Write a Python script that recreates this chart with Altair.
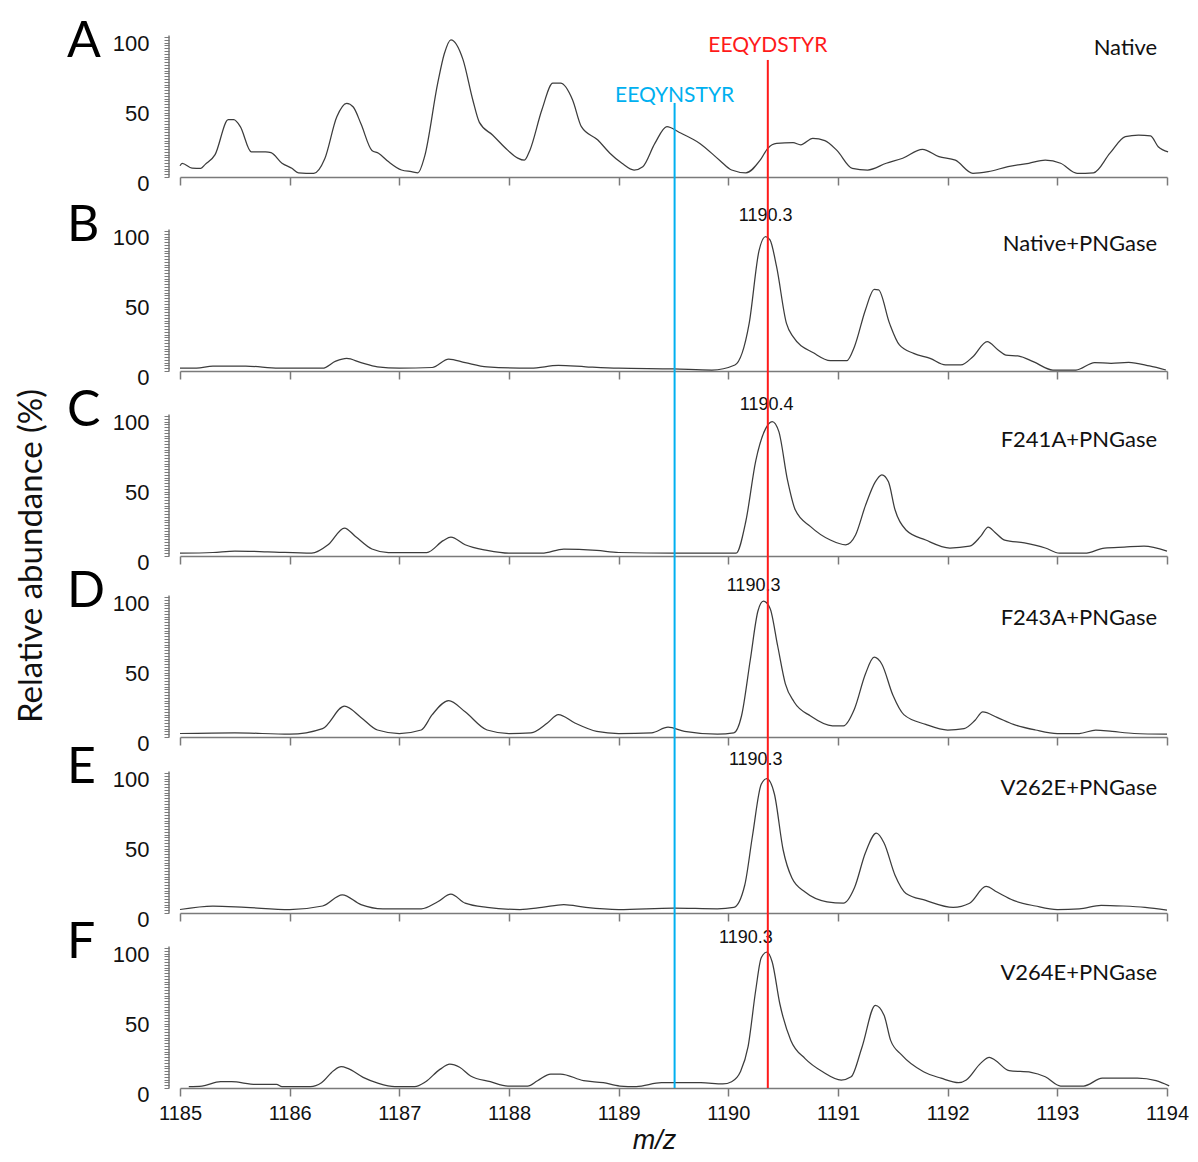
import altair as alt
import pandas as pd

# ---------------- data ----------------
mz_A = [1185.00,1185.02,1185.11,1185.19,1185.23,1185.32,1185.44,1185.49,1185.55,1185.65,1185.78,1185.83,1185.93,1186.02,1186.08,1186.22,1186.32,1186.43,1186.52,1186.58,1186.65,1186.75,1186.81,1186.90,1187.02,1187.11,1187.17,1187.23,1187.35,1187.41,1187.47,1187.58,1187.67,1187.73,1187.85,1187.99,1188.08,1188.14,1188.19,1188.30,1188.40,1188.47,1188.58,1188.66,1188.81,1188.92,1189.03,1189.14,1189.22,1189.33,1189.44,1189.55,1189.74,1189.92,1190.03,1190.16,1190.29,1190.36,1190.44,1190.59,1190.66,1190.77,1190.88,1190.99,1191.13,1191.27,1191.44,1191.59,1191.77,1191.92,1192.07,1192.23,1192.37,1192.55,1192.74,1192.89,1193.03,1193.18,1193.33,1193.48,1193.62,1193.74,1193.85,1193.92,1194.01]
int_A = [8,9.8,6.4,6.2,9,16,41,41,36,18,18,17.4,9.8,6.2,3,2.6,13,43,52.6,50,38,19,17,11,5,3.8,3,14.5,67,88,98,84,55,39,30,19,13.5,12,19,48,67,67,55,36,26.4,17,9.8,5,7.4,24,36,32,24,12,5,3,12,20.5,24,24.5,23,27.6,26,19,6.2,5,9.8,13.4,19.8,14.5,12,2.6,3.8,7.4,9.8,12,9.8,2.6,3,17,28.8,30,29.3,21.6,18]

mz_B = [1185.00,1185.15,1185.30,1185.60,1185.90,1186.30,1186.42,1186.52,1186.65,1186.80,1187.00,1187.30,1187.45,1187.60,1187.80,1188.20,1188.45,1188.70,1189.00,1189.50,1189.85,1190.06,1190.19,1190.28,1190.34,1190.38,1190.44,1190.53,1190.59,1190.78,1190.93,1191.08,1191.15,1191.25,1191.33,1191.37,1191.47,1191.56,1191.69,1191.84,1191.98,1192.12,1192.23,1192.36,1192.46,1192.53,1192.65,1192.78,1192.96,1193.17,1193.34,1193.49,1193.65,1193.84,1193.99]
int_B = [2,2,3.5,3.5,2,2,7,9,6,3,2,2.5,8.5,6,3,2,4,3,2,1.5,0.7,4.3,34,86,96,93.6,74.5,34,24.5,12.8,7.4,7.4,17.4,43.6,58.3,58,34,18.6,12.6,9,4.3,4.3,10.2,21,15,11.4,10.7,6.7,0.7,0.7,6,5.5,6.2,3.6,0.7]

mz_C = [1185.00,1185.30,1185.50,1185.80,1186.20,1186.35,1186.50,1186.60,1186.75,1186.90,1187.25,1187.40,1187.47,1187.60,1187.80,1188.00,1188.30,1188.50,1188.80,1189.00,1189.50,1189.90,1190.07,1190.16,1190.25,1190.34,1190.40,1190.46,1190.54,1190.61,1190.75,1190.93,1191.07,1191.16,1191.25,1191.34,1191.40,1191.46,1191.52,1191.62,1191.80,1192.02,1192.20,1192.30,1192.37,1192.43,1192.52,1192.70,1192.89,1193.02,1193.25,1193.43,1193.61,1193.79,1194.00]
int_C = [2,2.5,3.5,3,2,8,20,14,5,2.5,2.5,11,13.5,8,4,2,2,5,4,2.5,2,2,2,25,68,91,96,89,54,33,21,11.4,8,15,36,53,58,53,33,18.6,11.4,5.7,7,14,20.7,17,11.4,9.3,5.7,2,2,5.7,6.4,7,3.5]

mz_D = [1185.00,1185.50,1186.00,1186.30,1186.50,1186.65,1186.80,1187.00,1187.20,1187.30,1187.45,1187.60,1187.80,1188.00,1188.20,1188.35,1188.45,1188.60,1188.80,1189.00,1189.30,1189.45,1189.60,1189.90,1190.05,1190.12,1190.20,1190.27,1190.32,1190.38,1190.45,1190.52,1190.60,1190.75,1190.95,1191.05,1191.15,1191.25,1191.33,1191.40,1191.50,1191.60,1191.80,1192.00,1192.15,1192.25,1192.32,1192.45,1192.60,1192.80,1193.00,1193.20,1193.35,1193.50,1193.70,1194.00]
int_D = [2.5,3,2,6,22,14,5,2.5,5,16,26,18,5,2.5,3,10,16,10,4,2.5,3,7,4,2,3,15,55,90,97,92,65,38,25,15,8,8,20,45,57,52,30,16,9,5,6,12,18,14,9,5,2.5,2.5,5,4,2.5,2]

mz_E = [1185.00,1185.30,1185.60,1186.00,1186.30,1186.48,1186.65,1186.85,1187.20,1187.35,1187.47,1187.60,1187.80,1188.10,1188.30,1188.50,1188.70,1189.00,1189.50,1189.90,1190.05,1190.15,1190.22,1190.30,1190.35,1190.42,1190.50,1190.58,1190.70,1190.90,1191.05,1191.15,1191.25,1191.35,1191.42,1191.52,1191.62,1191.80,1192.05,1192.20,1192.35,1192.45,1192.60,1192.80,1193.00,1193.20,1193.40,1193.60,1193.80,1194.00]
int_E = [2.5,5,4,2.5,5,13,6,3,3,8,13.5,7,4,2.5,4,6,4,2.5,3.5,3,4,20,55,92,96,85,45,25,15,8,7,18,43,57,50,27,14,9,4,7,19,15,9,5,2.5,3,5.5,5,4,2]

mz_F = [1185.08,1185.20,1185.37,1185.47,1185.69,1185.88,1185.93,1186.19,1186.29,1186.40,1186.47,1186.53,1186.67,1186.81,1186.96,1187.14,1187.24,1187.37,1187.46,1187.55,1187.65,1187.83,1187.99,1188.17,1188.26,1188.38,1188.47,1188.68,1188.86,1189.01,1189.16,1189.39,1189.75,1189.95,1190.03,1190.11,1190.18,1190.25,1190.30,1190.35,1190.40,1190.47,1190.57,1190.70,1190.86,1191.03,1191.12,1191.22,1191.34,1191.42,1191.48,1191.58,1191.78,1191.94,1192.10,1192.17,1192.30,1192.38,1192.43,1192.56,1192.76,1192.89,1193.03,1193.24,1193.41,1193.73,1193.90,1194.02]
int_F = [1,1.4,4.5,4.5,2.6,2.6,1,1,3.8,12.4,15.2,14,7.6,3.3,1,1,4.5,13.3,17,14.8,8.6,4.5,1.4,1.4,5.2,10,10,5.2,3.8,1.4,1,3.8,3.8,2.9,4.5,11.6,29.5,70,93,97,90,60,34,21,11.6,5.7,8,29.5,59,52,34,23.6,11.6,7,3.8,5.7,17.6,21.9,20,12.4,11.2,8,1.4,1.4,7,7,5.2,1.5]

spectra_mz = [mz_A, mz_B, mz_C, mz_D, mz_E, mz_F]
spectra_int = [int_A, int_B, int_C, int_D, int_E, int_F]

panel_letters = ["A", "B", "C", "D", "E", "F"]
panel_names = ["Native", "Native+PNGase", "F241A+PNGase", "F243A+PNGase", "V262E+PNGase", "V264E+PNGase"]
peak_texts = ["", "1190.3", "1190.4", "1190.3", "1190.3", "1190.3"]
peak_text_mz = [0, 1190.34, 1190.35, 1190.23, 1190.25, 1190.16]
peak_text_val = [0, 110.7, 108, 108, 109, 107]
name_val = [92, 90.7, 83, 85, 89, 82]

x_ticks = list(range(1185, 1195))
y_ticks = list(range(0, 101, 2))

red_mz, red_label = 1190.36, "EEQYDSTYR"
blue_mz, blue_label = 1189.51, "EEQYNSTYR"
red_top_A, blue_top_A = 83.6, 52.9
red_label_val, blue_label_val = 93.6, 57.9

# ---------------- layout / style ----------------
heights = [169, 194, 185, 181, 176, 175]
letter_pos = [96.5, 103.6, 103.6, 103.6, 103.6, 103.6]
PX_PER_UNIT = 1.4
W = 987
RED = "#ff1a1a"
BLUE = "#00b0f0"
GREY = "#7a7a7a"
LINE = "#3c3c3c"
TXT_FONT = "Lato"
NUM_FONT = "Liberation Sans"

one = pd.DataFrame({"k": [0]})


def panel(i):
    h = heights[i]
    ymax = h / PX_PER_UNIT
    last = i == len(heights) - 1
    df = pd.DataFrame({"mz": spectra_mz[i], "v": spectra_int[i]})
    xs = alt.Scale(domain=[1185, 1194], nice=False, zero=False)
    ys = alt.Scale(domain=[0, ymax], nice=False, zero=False)

    xaxis_kw = dict(values=x_ticks, format="d", labels=last, labelFlush=False,
                    labelFontSize=20, labelFont=NUM_FONT, labelColor="#111111",
                    labelPadding=7, tickSize=8, tickWidth=1.5, tickColor=GREY,
                    domainColor=GREY, domainWidth=1.5, grid=False,
                    title=("m/z" if last else ""))
    if last:
        xaxis_kw.update(titleFont=NUM_FONT, titleFontStyle="italic", titleFontWeight="normal",
                        titleFontSize=27, titleColor="#111111", titleX=474, titleY=52,
                        titleBaseline="middle", titleAlign="center")
    xaxis = alt.Axis(**xaxis_kw)
    yaxis = alt.Axis(values=y_ticks,
                     labelExpr="datum.value % 50 === 0 ? datum.label : ''",
                     labelOverlap=False, domain=False, offset=11, tickSize=5,
                     tickColor=GREY, tickWidth=1, labelPadding=15, labelFontSize=22,
                     labelFont=NUM_FONT, labelColor="#111111", labelOffset=6, grid=False,
                     title="")

    def X(v):
        return alt.XDatum(v, type="quantitative", scale=xs, axis=xaxis)

    def Y(v):
        return alt.YDatum(v, type="quantitative", scale=ys, axis=yaxis)

    line = alt.Chart(df).mark_line(color=LINE, strokeWidth=1.25, interpolate="monotone").encode(
        x=alt.X("mz:Q", scale=xs, axis=xaxis),
        y=alt.Y("v:Q", scale=ys, axis=yaxis),
    )
    layers = [line]
    # y axis line from 0 to 100
    layers.append(alt.Chart(one).mark_rule(color=GREY, strokeWidth=1.5).encode(
        x=alt.value(-11), y=Y(0), y2=alt.Y2Datum(101)))
    # panel letter
    layers.append(alt.Chart(one).mark_text(text=panel_letters[i], font=TXT_FONT, fontSize=50,
                                           align="left", baseline="middle", color="#000000").encode(
        x=alt.value(-113), y=Y(letter_pos[i])))
    # sample name
    layers.append(alt.Chart(one).mark_text(text=panel_names[i], font=TXT_FONT, fontSize=22,
                                           align="right", baseline="middle", color="#111111").encode(
        x=X(1193.91), y=Y(name_val[i])))
    if peak_texts[i]:
        layers.append(alt.Chart(one).mark_text(text=peak_texts[i], font=NUM_FONT, fontSize=18,
                                               align="center", baseline="middle", color="#111111").encode(
            x=X(peak_text_mz[i]), y=Y(peak_text_val[i])))
    red_top = red_top_A if i == 0 else ymax
    blue_top = blue_top_A if i == 0 else ymax
    layers.append(alt.Chart(one).mark_rule(color=BLUE, strokeWidth=2).encode(
        x=X(blue_mz), y=Y(blue_top), y2=alt.Y2Datum(0)))
    layers.append(alt.Chart(one).mark_rule(color=RED, strokeWidth=2).encode(
        x=X(red_mz), y=Y(red_top), y2=alt.Y2Datum(0)))
    if i == 0:
        layers.append(alt.Chart(one).mark_text(text=red_label, font=TXT_FONT, fontSize=21,
                                               align="center", baseline="middle", color=RED).encode(
            x=X(red_mz), y=Y(red_label_val)))
        layers.append(alt.Chart(one).mark_text(text=blue_label, font=TXT_FONT, fontSize=21,
                                               align="center", baseline="middle", color=BLUE).encode(
            x=X(blue_mz), y=Y(blue_label_val)))
    if i == 2:
        layers.append(alt.Chart(one).mark_text(text="Relative abundance (%)", font=TXT_FONT,
                                               fontSize=33, angle=270, align="center",
                                               baseline="middle", color="#111111").encode(
            x=alt.value(-148), y=Y(0)))
    return alt.layer(*layers).properties(
        width=W, height=h, view=alt.ViewBackground(stroke="transparent", strokeWidth=0))


chart = alt.vconcat(*[panel(i) for i in range(6)], spacing=0, bounds="flush",
                    padding={"left": 8, "top": 0, "right": 0, "bottom": 0}).configure_view(
    stroke="transparent", strokeWidth=0).configure(background="white")

chart.save("out.html", embed_options={"renderer": "svg", "actions": False})
